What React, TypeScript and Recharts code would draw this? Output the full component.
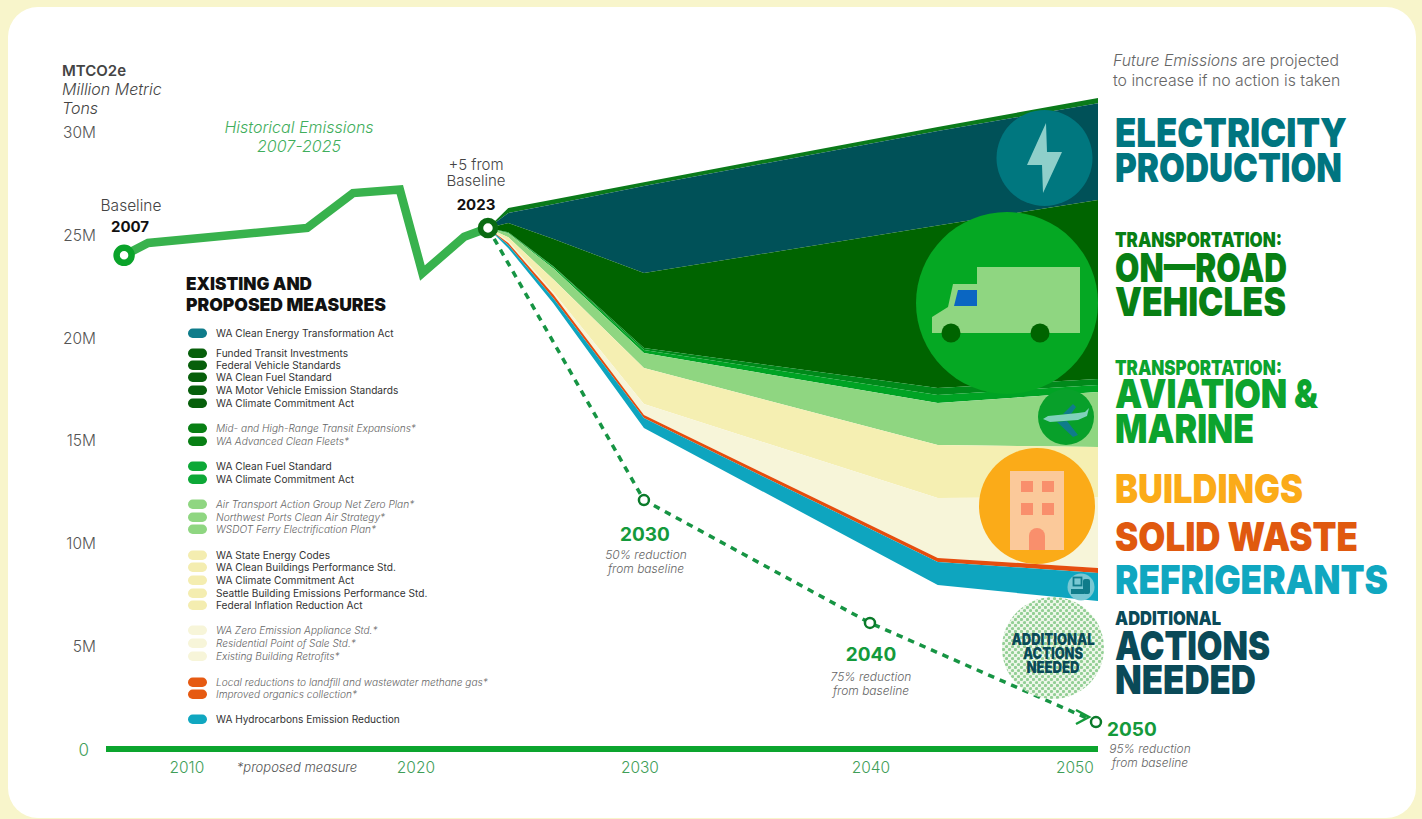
import { ComposedChart, Area, Line, XAxis, YAxis } from "recharts";

// Emissions in million metric tons
const historyYears = [2007, 2008.06, 2015.1, 2017.13, 2019.2, 2020.2, 2022.05, 2023.1];
const historyValues = [24.0, 24.6, 25.33, 27.03, 27.2, 23.14, 24.9, 25.33];

const targetYears = [2023.1, 2030, 2040, 2050];
const targetValues = [25.33, 12.1, 6.13, 1.31];

// Each wedge is stored as the upper edge of a band, going top to bottom
const bandYears = [2023.1, 2024, 2026, 2030, 2043, 2050.09];
const outerEdge = [25.33, 26.3, 26.71, 27.56, 30.24, 31.65];
const electricityTop = [25.33, 26.06, 26.49, 27.37, 30.04, 31.4];
const onRoadExistingTop = [25.33, 25.57, 24.79, 23.14, 25.45, 26.69];
const onRoadProposedTop = [25.33, 25.12, 23.46, 19.49, 17.55, 17.99];
const onRoadFuelTop = [25.33, 25.1, 23.43, 19.4, 17.21, 17.7];
const aviationTop = [25.33, 25.07, 23.36, 19.25, 16.82, 17.36];
const buildingsExistingTop = [25.33, 24.88, 22.82, 18.52, 14.78, 14.68];
const buildingsProposedTop = [25.33, 24.69, 22.19, 16.77, 12.2, 12.25];
const solidWasteTop = [25.33, 24.6, 22.09, 16.24, 9.29, 8.8];
const refrigerantsTop = [25.33, 24.5, 21.9, 16.09, 9.09, 8.56];
const refrigerantsBottom = [25.33, 24.35, 21.66, 15.61, 7.97, 7.19];

const xTicks = [2010, 2020, 2030, 2040, 2050];
const yTicks = [0, 5, 10, 15, 20, 25, 30];
const xTickNudge: Record<number, number> = { 2010: -5, 2020: -2, 2030: -4, 2040: 1, 2050: -21 };

const bandEdges = [
  { key: "edge", upper: outerEdge, lower: electricityTop, color: "#0a7a1a" },
  { key: "electricity", upper: electricityTop, lower: onRoadExistingTop, color: "#005158" },
  { key: "roadExisting", upper: onRoadExistingTop, lower: onRoadProposedTop, color: "#006400" },
  { key: "roadProposed", upper: onRoadProposedTop, lower: onRoadFuelTop, color: "#008a1a" },
  { key: "roadFuel", upper: onRoadFuelTop, lower: aviationTop, color: "#00a324" },
  { key: "aviation", upper: aviationTop, lower: buildingsExistingTop, color: "#8fd681" },
  { key: "buildings", upper: buildingsExistingTop, lower: buildingsProposedTop, color: "#f5efb2" },
  { key: "buildingsProposed", upper: buildingsProposedTop, lower: solidWasteTop, color: "#f7f5d9" },
  { key: "solidWaste", upper: solidWasteTop, lower: refrigerantsTop, color: "#e54e0e" },
  { key: "refrigerants", upper: refrigerantsTop, lower: refrigerantsBottom, color: "#0ea5bf" },
];

const bandRows = bandYears.map((year, i) => {
  const row: Record<string, number | number[]> = { year };
  bandEdges.forEach((b) => {
    row[b.key] = [b.lower[i], b.upper[i]];
  });
  return row;
});
const historyRows = historyYears.map((year, i) => ({ year, value: historyValues[i] }));
const targetRows = targetYears.map((year, i) => ({ year, value: targetValues[i] }));

const legendEntries = [
  { label: "WA Clean Energy Transformation Act", y: 333, color: "#0f7c8a" },
  { label: "Funded Transit Investments", y: 353, color: "#075f0b" },
  { label: "Federal Vehicle Standards", y: 365, color: "#075f0b" },
  { label: "WA Clean Fuel Standard", y: 377, color: "#075f0b" },
  { label: "WA Motor Vehicle Emission Standards", y: 390, color: "#075f0b" },
  { label: "WA Climate Commitment Act", y: 403, color: "#075f0b" },
  { label: "Mid- and High-Range Transit Expansions*", y: 428, color: "#087f14", italic: true },
  { label: "WA Advanced Clean Fleets*", y: 441, color: "#087f14", italic: true },
  { label: "WA Clean Fuel Standard", y: 466, color: "#0da837" },
  { label: "WA Climate Commitment Act", y: 479, color: "#0da837" },
  { label: "Air Transport Action Group Net Zero Plan*", y: 504, color: "#8fd681", italic: true },
  { label: "Northwest Ports Clean Air Strategy*", y: 517, color: "#8fd681", italic: true },
  { label: "WSDOT Ferry Electrification Plan*", y: 529, color: "#8fd681", italic: true },
  { label: "WA State Energy Codes", y: 555, color: "#f4edb0" },
  { label: "WA Clean Buildings Performance Std.", y: 567, color: "#f4edb0" },
  { label: "WA Climate Commitment Act", y: 580, color: "#f4edb0" },
  { label: "Seattle Building Emissions Performance Std.", y: 593, color: "#f4edb0" },
  { label: "Federal Inflation Reduction Act", y: 605, color: "#f4edb0" },
  { label: "WA Zero Emission Appliance Std.*", y: 630, color: "#f7f5d9", italic: true },
  { label: "Residential Point of Sale Std.*", y: 643, color: "#f7f5d9", italic: true },
  { label: "Existing Building Retrofits*", y: 656, color: "#f7f5d9", italic: true },
  { label: "Local reductions to landfill and wastewater methane gas*", y: 682, color: "#e65a12", italic: true },
  { label: "Improved organics collection*", y: 694, color: "#e65a12", italic: true },
  { label: "WA Hydrocarbons Emission Reduction", y: 719, color: "#10a7c0" },
];

const sectorTitles = [
  { text: "ELECTRICITY", y: 147, size: 40, width: 232, color: "#007580" },
  { text: "PRODUCTION", y: 182, size: 40, width: 227, color: "#007580" },
  { text: "TRANSPORTATION:", y: 247, size: 20, width: 167, color: "#087f14" },
  { text: "ON—ROAD", y: 282, size: 40, width: 172, color: "#087f14" },
  { text: "VEHICLES", y: 316, size: 40, width: 171, color: "#087f14" },
  { text: "TRANSPORTATION:", y: 375, size: 20, width: 167, color: "#0ca32e" },
  { text: "AVIATION &", y: 408, size: 40, width: 203, color: "#0ca32e" },
  { text: "MARINE", y: 443, size: 40, width: 139, color: "#0ca32e" },
  { text: "BUILDINGS", y: 503, size: 40, width: 188, color: "#fbab18" },
  { text: "SOLID WASTE", y: 551, size: 40, width: 243, color: "#e0590f" },
  { text: "REFRIGERANTS", y: 594, size: 40, width: 273, color: "#10a7c0" },
  { text: "ADDITIONAL", y: 625, size: 19, width: 106, color: "#0a4a58" },
  { text: "ACTIONS", y: 660, size: 40, width: 155, color: "#0a4a58" },
  { text: "NEEDED", y: 694, size: 40, width: 141, color: "#0a4a58" },
];

const DISPLAY = "Inter, 'DejaVu Sans', sans-serif";
const BODY = "Inter, 'Open Sans', sans-serif";
const TALL = 1.18; // headline face is narrow and tall, so stretch the glyphs upward

function Headline({ x, y, size, width, color, text, anchor = "start" }: any) {
  return (
    <text
      transform={`translate(${x},${y}) scale(1,${TALL})`}
      textAnchor={anchor}
      fontFamily={DISPLAY}
      fontWeight={900}
      fontSize={size / TALL}
      fill={color}
      textLength={width}
      lengthAdjust="spacingAndGlyphs"
    >
      {text}
    </text>
  );
}

function HistoryDot(props: any) {
  const { cx, cy, index } = props;
  if (index === 0) return <circle key={index} cx={cx} cy={cy} r={7.5} fill="#fff" stroke="#0aa32a" strokeWidth={6.5} />;
  if (index === historyYears.length - 1) return <circle key={index} cx={cx} cy={cy} r={7.5} fill="#fff" stroke="#0a6b12" strokeWidth={5.5} />;
  return <g key={index} />;
}

function TargetDot(props: any) {
  const { cx, cy, index } = props;
  if (index === 0) return <g key={index} />;
  return <circle key={index} cx={cx} cy={cy} r={5} fill="#fff" stroke="#0a7a2a" strokeWidth={2.5} />;
}

function XTick({ x, y, payload }: any) {
  return (
    <text x={x + (xTickNudge[payload.value] ?? 0)} y={y + 16} textAnchor="middle" fontFamily={BODY} fontWeight={300} fontSize={15.5} fill="#3f9e58">
      {payload.value}
    </text>
  );
}

function YTick({ x, y, payload }: any) {
  if (payload.value === 0) {
    return (
      <text x={x - 9} y={y + 7} textAnchor="end" fontFamily={BODY} fontWeight={300} fontSize={17} fill="#3f9e58">
        0
      </text>
    );
  }
  return (
    <text x={x - 2} y={y + 6} textAnchor="end" fontFamily={BODY} fontWeight={300} fontSize={15.5} fill="#555">
      {payload.value}M
    </text>
  );
}

function Note({ x, y, lines, size = 12 }: { x: number; y: number; lines: string[]; size?: number }) {
  return (
    <>
      {lines.map((l, i) => (
        <text key={l} x={x} y={y + i * 14} textAnchor="middle" fontFamily={BODY} fontStyle="italic" fontWeight={300} fontSize={size} fill="#666">
          {l}
        </text>
      ))}
    </>
  );
}

function Overlay() {
  return (
    <svg width={1422} height={819} style={{ position: "absolute", left: 0, top: 0 }}>
      <defs>
        <pattern id="dots" width="6" height="6" patternUnits="userSpaceOnUse">
          <rect width="6" height="6" fill="#eef7ea" />
          <circle cx="1.5" cy="1.5" r="1.6" fill="#93cf95" />
          <circle cx="4.5" cy="4.5" r="1.6" fill="#93cf95" />
        </pattern>
      </defs>

      {/* axis title and annotations */}
      <text x={62} y={76} fontFamily={BODY} fontWeight={600} fontSize={15} fill="#444">MTCO2e</text>
      <text x={62} y={95} fontFamily={BODY} fontStyle="italic" fontWeight={300} fontSize={16} fill="#444">Million Metric</text>
      <text x={62} y={114} fontFamily={BODY} fontStyle="italic" fontWeight={300} fontSize={16} fill="#444">Tons</text>
      <text x={299} y={133} textAnchor="middle" fontFamily={BODY} fontStyle="italic" fontWeight={300} fontSize={16} fill="#3fae5c">Historical Emissions</text>
      <text x={299} y={152} textAnchor="middle" fontFamily={BODY} fontStyle="italic" fontWeight={300} fontSize={16} fill="#3fae5c">2007-2025</text>
      <text x={131} y={211} textAnchor="middle" fontFamily={BODY} fontWeight={300} fontSize={15.5} fill="#444">Baseline</text>
      <text x={130} y={232} textAnchor="middle" fontFamily={BODY} fontWeight={700} fontSize={15} fill="#111">2007</text>
      <text x={476} y={170} textAnchor="middle" fontFamily={BODY} fontWeight={300} fontSize={15} fill="#444">+5 from</text>
      <text x={476} y={186} textAnchor="middle" fontFamily={BODY} fontWeight={300} fontSize={15} fill="#444">Baseline</text>
      <text x={476} y={210} textAnchor="middle" fontFamily={BODY} fontWeight={700} fontSize={15} fill="#111">2023</text>

      <text x={645} y={541} textAnchor="middle" fontFamily={BODY} fontWeight={700} fontSize={19} fill="#149a3b">2030</text>
      <Note x={646} y={559} lines={["50% reduction", "from baseline"]} />
      <text x={871} y={661} textAnchor="middle" fontFamily={BODY} fontWeight={700} fontSize={19} fill="#149a3b">2040</text>
      <Note x={871} y={681} lines={["75% reduction", "from baseline"]} />
      <text x={1107} y={736} fontFamily={BODY} fontWeight={700} fontSize={19} fill="#149a3b">2050</text>
      <Note x={1150} y={753} lines={["95% reduction", "from baseline"]} />
      <polyline points="1076,710 1089,717 1076,724" fill="none" stroke="#149a3b" strokeWidth={2.5} />

      <text x={1113} y={66} fontFamily={BODY} fontWeight={300} fontSize={15.8} fill="#666">
        <tspan fontStyle="italic">Future Emissions</tspan> are projected
      </text>
      <text x={1113} y={86} fontFamily={BODY} fontWeight={300} fontSize={15.8} fill="#666">to increase if no action is taken</text>
      <text x={297} y={772} textAnchor="middle" fontFamily={BODY} fontStyle="italic" fontWeight={300} fontSize={13} fill="#555">*proposed measure</text>

      {/* legend */}
      <Headline x={186} y={290} size={18} width={126} color="#111" text="EXISTING AND" />
      <Headline x={186} y={311} size={18} width={200} color="#111" text="PROPOSED MEASURES" />
      {legendEntries.map((e) => (
        <g key={e.label + e.y}>
          <rect x={188} y={e.y - 4.5} width={19} height={9.5} rx={4.7} fill={e.color} />
          <text x={216} y={e.y + 3.5} fontFamily={BODY} fontSize={10.15} fontWeight={e.italic ? 300 : 400} fontStyle={e.italic ? "italic" : "normal"} fill={e.italic ? "#666" : "#333"}>
            {e.label}
          </text>
        </g>
      ))}

      {/* sector icons */}
      <circle cx={1044.5} cy={158} r={48} fill="#00777f" />
      <polygon points="1046,123 1027,165 1042,165 1043,193 1062,152 1047,152" fill="#8fcfca" />

      <circle cx={1007} cy={303} r={91} fill="#05a823" />
      <rect x={977} y={267} width={103} height={66} fill="#8fd681" />
      <polygon points="932,317 948,307 953,284 977,284 977,333 932,333" fill="#8fd681" />
      <polygon points="958,290 977,290 977,306 954,306" fill="#0a66c2" />
      <circle cx={951} cy={333} r={9.5} fill="#006400" />
      <circle cx={1040} cy={333} r={9.5} fill="#006400" />

      <circle cx={1066} cy={417} r={28} fill="#08a02a" />
      <polygon points="1063,414 1073,404 1076,407 1071,414" fill="#0f7c8a" />
      <polygon points="1057,422 1067,421 1078,435 1073,437" fill="#0f7c8a" />
      <polygon points="1043,419 1048,416 1078,413 1085,412 1089,408 1087,416 1078,420 1050,422" fill="#7fd1b9" />

      <circle cx={1037} cy={506} r={58} fill="#fbab18" />
      <rect x={1010} y={471} width={54} height={79} fill="#fbc99a" />
      <rect x={1021} y={481} width={12} height={11} fill="#f98f6c" />
      <rect x={1042} y={481} width={12} height={11} fill="#f98f6c" />
      <rect x={1021} y={503} width={12} height={12} fill="#f98f6c" />
      <rect x={1042} y={503} width={12} height={12} fill="#f98f6c" />
      <path d="M1029,550 L1029,536 A8,8 0 0 1 1045,536 L1045,550 Z" fill="#f98f6c" />

      <circle cx={1081} cy={587} r={13.5} fill="#79c8d3" />
      <rect x={1073.5} y={577.5} width={8} height={8} fill="none" stroke="#0f7c8a" strokeWidth={1.8} />
      <rect x={1071} y={589} width={13} height={5} fill="#0f7c8a" />
      <rect x={1083} y={579} width={7} height={15} rx={2} fill="#0f7c8a" />

      <circle cx={1053} cy={648} r={51} fill="url(#dots)" />
      <Headline x={1053} y={645} size={16} width={83} color="#0a4a58" text="ADDITIONAL" anchor="middle" />
      <Headline x={1053} y={659} size={16} width={60} color="#0a4a58" text="ACTIONS" anchor="middle" />
      <Headline x={1053} y={673} size={16} width={53} color="#0a4a58" text="NEEDED" anchor="middle" />

      {/* sector names */}
      {sectorTitles.map((t) => (
        <Headline key={t.text + t.y} x={1115} y={t.y} size={t.size} width={t.width} color={t.color} text={t.text} />
      ))}
    </svg>
  );
}

export default function App() {
  return (
    <div style={{ position: "absolute", left: 0, top: 0, width: 1422, height: 819, background: "#f8f5cb", overflow: "hidden" }}>
      <div style={{ position: "absolute", left: 8, top: 7, width: 1408, height: 811, background: "#fff", borderRadius: 30 }} />
      <div style={{ position: "absolute", left: 0, top: 0 }}>
        <ComposedChart width={1422} height={819} margin={{ top: 90.8, right: 324, bottom: 30, left: 46 }}>
          <XAxis
            dataKey="year"
            type="number"
            domain={[2006.2, 2050.09]}
            ticks={xTicks}
            interval={0}
            height={40}
            tickLine={false}
            axisLine={{ stroke: "#0ca52e", strokeWidth: 6 }}
            tick={<XTick />}
          />
          <YAxis
            type="number"
            domain={[0, 32]}
            ticks={yTicks}
            interval={0}
            width={60}
            tickLine={false}
            axisLine={false}
            tick={<YTick />}
          />
          {bandEdges.map((b) => (
            <Area
              key={b.key}
              data={bandRows}
              dataKey={b.key}
              type="linear"
              fill={b.color}
              fillOpacity={1}
              stroke="none"
              dot={false}
              activeDot={false}
              isAnimationActive={false}
            />
          ))}
          <Line
            data={targetRows}
            dataKey="value"
            type="linear"
            stroke="#169443"
            strokeWidth={3.5}
            strokeDasharray="6.5 6"
            dot={<TargetDot />}
            activeDot={false}
            isAnimationActive={false}
          />
          <Line
            data={historyRows}
            dataKey="value"
            type="linear"
            stroke="#38b24d"
            strokeWidth={8.5}
            dot={<HistoryDot />}
            activeDot={false}
            isAnimationActive={false}
          />
        </ComposedChart>
      </div>
      <Overlay />
    </div>
  );
}
